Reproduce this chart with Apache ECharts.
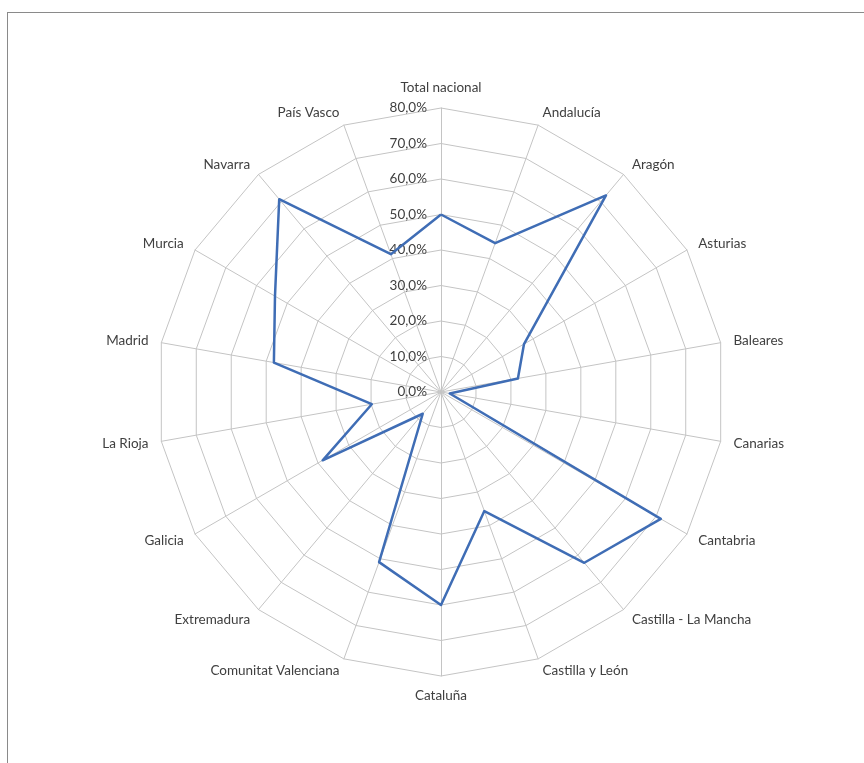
<!DOCTYPE html>
<html>
<head>
<meta charset="utf-8">
<script src="https://cdn.jsdelivr.net/npm/echarts@6/dist/echarts.min.js"></script>
<style>
html,body{margin:0;padding:0;background:#fff;overflow:hidden;}
#frame{position:absolute;left:7px;top:12px;width:900px;height:800px;border:1px solid #8a8a8a;box-sizing:border-box;}
#chart{position:absolute;left:0;top:0;width:864px;height:763px;}
</style>
</head>
<body>
<div id="frame"></div>
<div id="chart"></div>
<script>
var categories = ["Total nacional","Andalucía","Aragón","Asturias","Baleares","Canarias","Cantabria","Castilla - La Mancha","Castilla y León","Cataluña","Comunitat Valenciana","Extremadura","Galicia","La Rioja","Madrid","Murcia","Navarra","País Vasco"];
var values = [50.0,44.6,72.3,27.0,22.0,2.5,71.5,62.8,35.7,60.0,51.0,8.0,38.5,19.8,47.8,54.0,70.9,41.3];
var axisMax = 80;

// clockwise order: first category on top, then going right
var order = [0];
for (var k = categories.length - 1; k >= 1; k--) order.push(k);

var chart = echarts.init(document.getElementById('chart'));
var indicators = order.map(function(i){
  var ind = {name: categories[i], min: 0, max: axisMax};
  if (i === 0) ind.axisLabel = {show: true};
  return ind;
});
var orderedValues = order.map(function(i){ return values[i]; });

chart.setOption({
  animation: false,
  radar: {
    center: [441, 392],
    radius: 284,
    startAngle: 90,
    shape: 'polygon',
    splitNumber: 8,
    indicator: indicators,
    nameGap: 13,
    axisName: {color: '#404040', fontFamily: 'Lato', fontSize: 13.5},
    axisLine: {lineStyle: {color: '#c4c4c4', width: 1}},
    splitLine: {lineStyle: {color: '#c4c4c4', width: 1}},
    splitArea: {show: false},
    axisTick: {show: false},
    axisLabel: {
      show: false,
      color: '#404040', fontFamily: 'Lato', fontSize: 13.5,
      margin: 14,
      formatter: function(v){ return v.toFixed(1).replace('.', ',') + '%'; }
    }
  },
  series: [{
    type: 'radar',
    symbol: 'none',
    lineStyle: {color: '#3F6DB5', width: 2.5},
    data: [{value: orderedValues}]
  }]
});
</script>
</body>
</html>
